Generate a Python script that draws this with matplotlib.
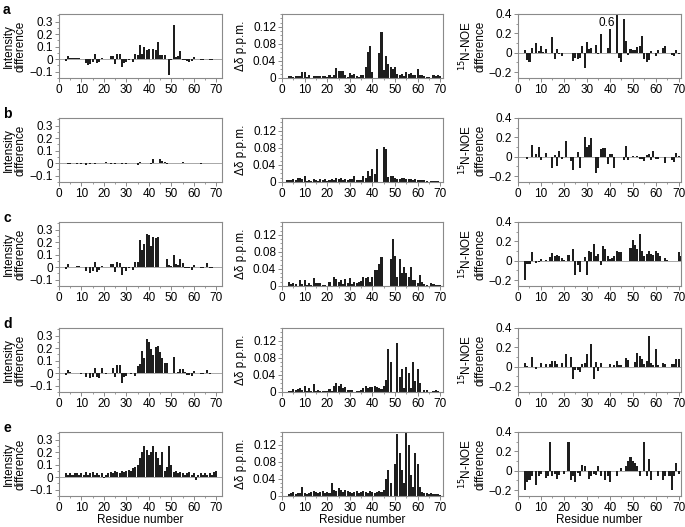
import numpy as np
import matplotlib
matplotlib.use("Agg")
import matplotlib.pyplot as plt
from matplotlib.ticker import MultipleLocator

n = np.nan
residues = np.arange(1, 72)

# ---- row a ----
int_a = [n, n, -0.012, 0.025, 0.008, 0.008, 0.008, 0.012, 0.012, 0.005,
         n, -0.03, -0.045, -0.04, -0.025, 0.045, -0.03, -0.02, 0.008, n,
         0.003, n, 0.025, 0.025, -0.035, 0.045, 0.04, -0.06, -0.03, -0.025,
         -0.01, 0.005, -0.02, 0.045, 0.035, 0.11, 0.04, 0.095, 0.075, 0.085,
         n, 0.08, 0.075, 0.135, 0.03, 0.03, 0.03, 0.0, -0.125, -0.01,
         0.275, 0.02, 0.025, 0.065, -0.01, -0.01, -0.015, -0.02, -0.015, 0.015,
         n, n, -0.005, -0.005, n, 0.005, -0.01, -0.01, 0.005, 0.002, 0.002]
dd_a = [n, n, 0.004, 0.004, 0.003, 0.005, 0.005, 0.004, 0.013, 0.013,
        0.002, 0.006, n, 0.005, 0.005, 0.005, 0.004, 0.005, 0.005, 0.003,
        0.008, 0.002, 0.008, 0.024, 0.016, 0.017, 0.016, 0.008, 0.002, 0.012,
        0.008, 0.01, 0.005, 0.003, 0.007, 0.008, 0.025, 0.06, 0.075, 0.013,
        n, n, 0.058, 0.108, 0.018, 0.052, 0.032, 0.025, 0.02, 0.025,
        0.01, 0.008, 0.01, 0.005, 0.015, 0.01, 0.012, 0.008, 0.008, 0.022,
        0.006, 0.008, 0.005, 0.003, 0.003, n, 0.006, 0.005, 0.006, 0.005, n]
noe_a = [n, n, 0.03, -0.07, -0.09, 0.05, n, 0.1, 0.02, 0.065,
         0.01, 0.04, n, n, 0.165, -0.06, 0.04, -0.01, -0.03, n,
         0.0, n, n, -0.08, -0.05, -0.06, -0.05, 0.075, -0.16, 0.11,
         0.04, 0.05, 0.0, 0.08, -0.01, 0.19, 0.0, 0.0, 0.05, 0.25,
         n, n, 0.6, -0.05, -0.1, 0.35, 0.12, -0.02, 0.04, 0.03,
         0.03, 0.06, 0.07, 0.17, -0.06, -0.1, -0.07, 0.02, 0.0, -0.03,
         0.03, n, 0.05, 0.07, n, n, -0.02, -0.03, 0.03, -0.01, n]

# ---- row b ----
int_b = [n, n, 0.005, -0.005, -0.005, 0.0, 0.002, -0.003, 0.0, -0.005,
         0.0, -0.012, 0.0, -0.004, 0.0, -0.003, 0.0, 0.002, -0.002, 0.0,
         0.006, n, -0.01, 0.003, -0.004, 0.002, 0.0, -0.003, 0.002, -0.004,
         0.0, 0.003, 0.0, 0.002, -0.015, 0.012, 0.003, 0.0, -0.002, 0.0,
         -0.005, 0.035, 0.0, n, 0.03, 0.02, 0.01, -0.008, -0.002, 0.0,
         0.002, 0.0, 0.003, 0.002, 0.008, 0.002, 0.0, -0.002, 0.0, 0.0,
         0.0, n, -0.003, 0.0, n, 0.0, -0.002, 0.0, 0.0, 0.0, 0.0]
dd_b = [n, 0.004, 0.004, 0.005, 0.007, 0.005, 0.009, 0.01, 0.006, 0.013,
        0.003, 0.005, 0.002, 0.006, 0.004, 0.003, 0.007, 0.004, 0.008, 0.003,
        0.004, 0.006, 0.004, 0.01, 0.008, 0.01, 0.005, 0.006, 0.004, 0.008,
        0.006, 0.014, 0.005, 0.005, 0.005, 0.015, 0.01, 0.025, 0.015, 0.03,
        0.018, 0.077, n, n, 0.082, 0.078, 0.012, 0.014, 0.015, 0.01,
        0.008, 0.008, 0.009, 0.009, 0.008, 0.006, 0.006, 0.005, 0.006, 0.005,
        0.004, 0.004, 0.004, 0.003, n, 0.003, 0.003, 0.003, 0.002, n, n]
noe_b = [n, n, n, -0.02, n, 0.12, n, 0.03, 0.1, -0.03,
         n, 0.04, n, n, -0.12, 0.02, -0.09, 0.06, -0.02, n,
         0.16, n, -0.04, -0.14, 0.0, 0.05, -0.12, n, 0.2, 0.1,
         0.12, 0.19, 0.0, -0.17, -0.12, 0.08, 0.09, 0.09, -0.07, 0.03,
         0.03, -0.12, n, n, n, -0.03, 0.11, -0.03, n, 0.01,
         0.0, 0.01, -0.02, -0.02, -0.04, 0.02, 0.03, -0.03, 0.06, -0.02,
         -0.02, n, n, -0.06, n, n, -0.03, -0.05, 0.04, 0.01, n]

# ---- row c ----
int_c = [n, n, -0.015, 0.025, 0.005, 0.005, n, 0.01, 0.01, 0.0,
         n, -0.03, n, -0.045, -0.03, 0.045, -0.035, -0.02, 0.01, n,
         0.0, n, 0.025, 0.025, -0.035, 0.045, 0.035, -0.06, -0.01, -0.03,
         -0.01, 0.0, -0.02, 0.04, 0.04, 0.215, 0.14, 0.185, 0.265, 0.26,
         0.165, 0.24, 0.235, 0.24, n, n, n, 0.065, 0.02, 0.01,
         0.1, 0.025, 0.02, 0.065, 0.03, -0.01, -0.01, -0.01, -0.02, 0.015,
         n, n, -0.005, -0.005, n, 0.03, -0.01, -0.005, 0.005, 0.0, n]
dd_c = [n, n, 0.009, 0.004, 0.008, 0.004, n, 0.013, 0.004, 0.015,
        0.002, 0.008, 0.003, 0.019, 0.006, 0.008, 0.006, 0.003, 0.002, 0.001,
        0.01, n, 0.021, 0.017, 0.009, 0.013, 0.005, 0.017, 0.006, 0.018,
        0.004, 0.01, 0.006, 0.01, 0.012, 0.022, 0.018, 0.02, 0.01, 0.02,
        0.038, 0.038, 0.052, 0.068, n, n, n, 0.063, 0.11, 0.07,
        0.02, 0.063, 0.03, 0.045, 0.03, 0.022, 0.045, 0.015, 0.013, 0.008,
        0.026, 0.01, 0.004, 0.002, n, 0.007, 0.004, 0.003, 0.003, 0.002, n]
noe_c = [n, n, -0.2, -0.03, -0.03, 0.09, n, -0.02, -0.01, 0.02,
         n, 0.01, n, 0.04, 0.08, 0.05, 0.06, 0.05, 0.03, 0.01,
         n, 0.06, n, 0.12, -0.15, -0.04, -0.12, n, 0.04, -0.15,
         0.1, 0.09, 0.17, 0.05, 0.07, -0.04, 0.15, 0.12, 0.05, 0.02,
         0.03, 0.05, 0.1, 0.09, 0.09, n, n, n, 0.13, 0.21,
         0.16, 0.12, 0.28, 0.1, 0.05, 0.07, 0.1, 0.07, 0.06, 0.1,
         0.08, 0.05, n, 0.03, 0.01, n, n, n, 0.0, 0.09, 0.05]

# ---- row d ----
int_d = [n, n, -0.015, 0.025, 0.01, 0.005, n, 0.0, 0.005, -0.005,
         n, -0.03, n, -0.04, -0.03, 0.04, -0.03, -0.04, 0.04, n,
         -0.01, n, n, 0.04, -0.03, 0.065, 0.065, -0.075, -0.03, -0.02,
         0.0, -0.01, 0.0, -0.02, 0.055, 0.07, 0.18, 0.12, 0.275, 0.245,
         0.19, 0.145, 0.21, 0.215, 0.17, 0.12, 0.08, 0.08, n, n,
         0.125, 0.0, 0.01, 0.03, 0.035, 0.01, -0.015, -0.015, -0.025, 0.02,
         n, n, -0.005, -0.005, n, 0.025, -0.01, 0.0, 0.005, 0.0, n]
dd_d = [n, n, 0.002, 0.002, 0.006, 0.005, 0.008, 0.01, 0.004, 0.015,
        0.002, 0.009, 0.002, 0.018, 0.003, 0.004, 0.003, 0.003, 0.002, 0.003,
        0.008, 0.002, 0.013, 0.02, 0.013, 0.019, 0.01, 0.012, 0.004, 0.005,
        0.004, 0.001, 0.002, 0.003, 0.005, 0.01, 0.013, 0.01, 0.011, 0.011,
        0.014, 0.012, 0.01, 0.008, 0.013, 0.028, 0.1, 0.07, n, n,
        0.115, 0.035, 0.055, 0.01, 0.058, 0.045, 0.01, 0.07, 0.025, 0.053,
        0.02, n, 0.004, 0.004, n, n, 0.002, 0.005, 0.003, 0.001, n]
noe_d = [n, n, 0.04, 0.01, 0.0, 0.1, n, -0.02, n, 0.04,
         n, 0.03, n, 0.03, 0.06, 0.06, 0.03, 0.0, 0.04, n,
         0.13, n, 0.1, -0.13, -0.03, -0.03, -0.05, 0.03, 0.04, 0.13,
         0.0, 0.24, -0.13, 0.05, -0.04, 0.04, 0.0, n, 0.0, 0.03,
         0.0, 0.02, 0.06, 0.02, 0.02, n, 0.09, 0.07, n, n,
         0.05, 0.14, 0.11, 0.08, 0.03, 0.06, 0.32, 0.04, 0.02, 0.18,
         0.02, n, 0.04, 0.03, n, n, 0.03, 0.03, 0.08, 0.08, n]

# ---- row e ----
int_e = [n, n, 0.03, 0.02, 0.03, 0.02, 0.03, 0.03, 0.02, 0.03,
         0.02, 0.04, 0.02, 0.03, 0.04, 0.02, 0.03, 0.02, 0.03, -0.01,
         0.02, 0.03, 0.04, 0.03, 0.05, 0.04, 0.03, 0.05, 0.04, 0.05,
         0.06, 0.05, 0.07, 0.08, 0.1, 0.15, 0.2, 0.25, 0.22, 0.18,
         0.2, 0.25, 0.2, 0.15, 0.1, 0.2, 0.05, 0.08, 0.25, 0.1,
         0.04, 0.05, 0.03, 0.04, 0.03, 0.02, 0.03, 0.04, 0.02, 0.03,
         -0.02, 0.02, 0.03, 0.02, 0.03, 0.02, 0.03, 0.02, 0.04, 0.05, n]
dd_e = [n, n, 0.005, 0.006, 0.01, 0.005, 0.006, 0.008, 0.02, 0.006,
        0.005, 0.008, 0.01, 0.012, 0.01, 0.008, 0.01, 0.012, 0.008, 0.01,
        0.006, 0.03, 0.015, 0.012, 0.018, 0.015, 0.01, 0.015, 0.012, 0.01,
        0.008, 0.01, 0.012, 0.008, 0.01, 0.012, 0.01, 0.008, 0.012, 0.01,
        0.008, 0.01, 0.012, 0.01, 0.015, 0.04, 0.06, 0.03, n, 0.075,
        0.145, 0.1, 0.06, 0.03, 0.15, 0.12, 0.05, 0.02, 0.1, 0.075,
        0.02, 0.01, 0.008, 0.006, 0.005, 0.006, 0.004, 0.005, 0.004, 0.003, n]
noe_e = [n, n, -0.2, -0.12, -0.1, -0.05, 0.0, -0.15, -0.05, -0.03,
         n, -0.07, -0.05, 0.3, -0.05, -0.03, -0.08, -0.04, n, -0.03,
         n, 0.3, -0.1, -0.05, -0.12, -0.02, -0.05, 0.06, 0.05, n,
         -0.08, -0.05, -0.03, -0.04, 0.05, -0.05, n, -0.1, -0.05, -0.12,
         0.0, n, -0.05, n, 0.03, n, 0.05, 0.1, 0.14, 0.1,
         0.08, 0.05, -0.05, n, 0.3, -0.05, 0.12, -0.1, n, 0.0,
         -0.05, n, -0.1, -0.05, n, -0.05, -0.2, -0.05, 0.08, -0.03, n]

row_letters = ["a", "b", "c", "d", "e"]
int_rows = [int_a, int_b, int_c, int_d, int_e]
dd_rows = [dd_a, dd_b, dd_c, dd_d, dd_e]
noe_rows = [noe_a, noe_b, noe_c, noe_d, noe_e]

W, H = 685, 527
fig = plt.figure(figsize=(W / 100, H / 100), dpi=100)
plt.rcParams['font.family'] = ['Liberation Sans', 'DejaVu Sans']

bar_color = "#1e1e1e"
spine_color = "#8a8a8a"
tick_fs = 8.5

tops = [14, 118, 222, 328, 432]
height = 64
cols = [(59, 222), (282, 443), (518, 681)]

col_cfg = [
    dict(ylim=(-0.15, 0.36), major=[-0.1, 0, 0.1, 0.2, 0.3], minor=0.05,
         xlim=(0, 72.5), fmt=lambda v: "0" if abs(v) < 1e-9 else ("\u22120.1" if v < 0 else f"{v:.1f}")),
    dict(ylim=(0, 0.15), major=[0, 0.04, 0.08, 0.12], minor=0.01,
         xlim=(0, 71.2), fmt=lambda v: "0" if abs(v) < 1e-9 else f"{v:.2f}"),
    dict(ylim=(-0.26, 0.4), major=[-0.2, 0, 0.2, 0.4], minor=0.1,
         xlim=(0, 71), fmt=lambda v: "0" if abs(v) < 1e-9 else ("\u22120.2" if v < 0 else f"{v:.1f}")),
]

def px_rect(x0, x1, top, h):
    return [x0 / W, 1 - (top + h) / H, (x1 - x0) / W, h / H]

for r in range(5):
    datasets = [int_rows[r], dd_rows[r], noe_rows[r]]
    for c in range(3):
        cfg = col_cfg[c]
        ax = fig.add_axes(px_rect(cols[c][0], cols[c][1], tops[r], height))
        vals = np.array(datasets[c], dtype=float)
        lo, hi = cfg["ylim"]
        ax.axhline(0, color="#9a9a9a", lw=0.6, zorder=1)
        ax.bar(residues, vals, width=0.9, color=bar_color, linewidth=0, zorder=2)
        ax.set_xlim(*cfg["xlim"])
        ax.set_ylim(lo, hi)
        ax.set_xticks([0, 10, 20, 30, 40, 50, 60, 70])
        ax.xaxis.set_minor_locator(MultipleLocator(5))
        ax.set_yticks(cfg["major"])
        ax.set_yticklabels([cfg["fmt"](v) for v in cfg["major"]])
        ax.yaxis.set_minor_locator(MultipleLocator(cfg["minor"]))
        ax.tick_params(which="both", direction="out", color=spine_color,
                       labelsize=tick_fs, top=False, right=False, pad=1.5)
        ax.tick_params(which="major", length=2.8, width=0.7)
        ax.tick_params(which="minor", length=1.6, width=0.6)
        for s in ax.spines.values():
            s.set_color(spine_color)
            s.set_linewidth(0.8)
        if r == 0 and c == 2:
            ax.text(38.5, 0.31, "0.6", ha="center", va="center", fontsize=tick_fs)
        if r == 4:
            ax.set_xlabel("Residue number", fontsize=8.5, labelpad=0)

    cy = 1 - (tops[r] + height / 2) / H
    fig.text(15 / W, cy, "Intensity\ndifference", rotation=90, ha="center",
             va="center", fontsize=8.5, linespacing=1.0)
    fig.text(241 / W, cy, "\u0394\u03b4 p.p.m.", rotation=90, ha="center",
             va="center", fontsize=8.5)
    fig.text(472 / W, cy, "$^{15}$N-NOE\ndifference", rotation=90, ha="center",
             va="center", fontsize=8.5, linespacing=1.0)
    fig.text(3 / W, 1 - (tops[r] - 4) / H, row_letters[r], fontsize=10,
             fontweight="bold", ha="left", va="center")

fig.savefig("out.png", dpi=100)
